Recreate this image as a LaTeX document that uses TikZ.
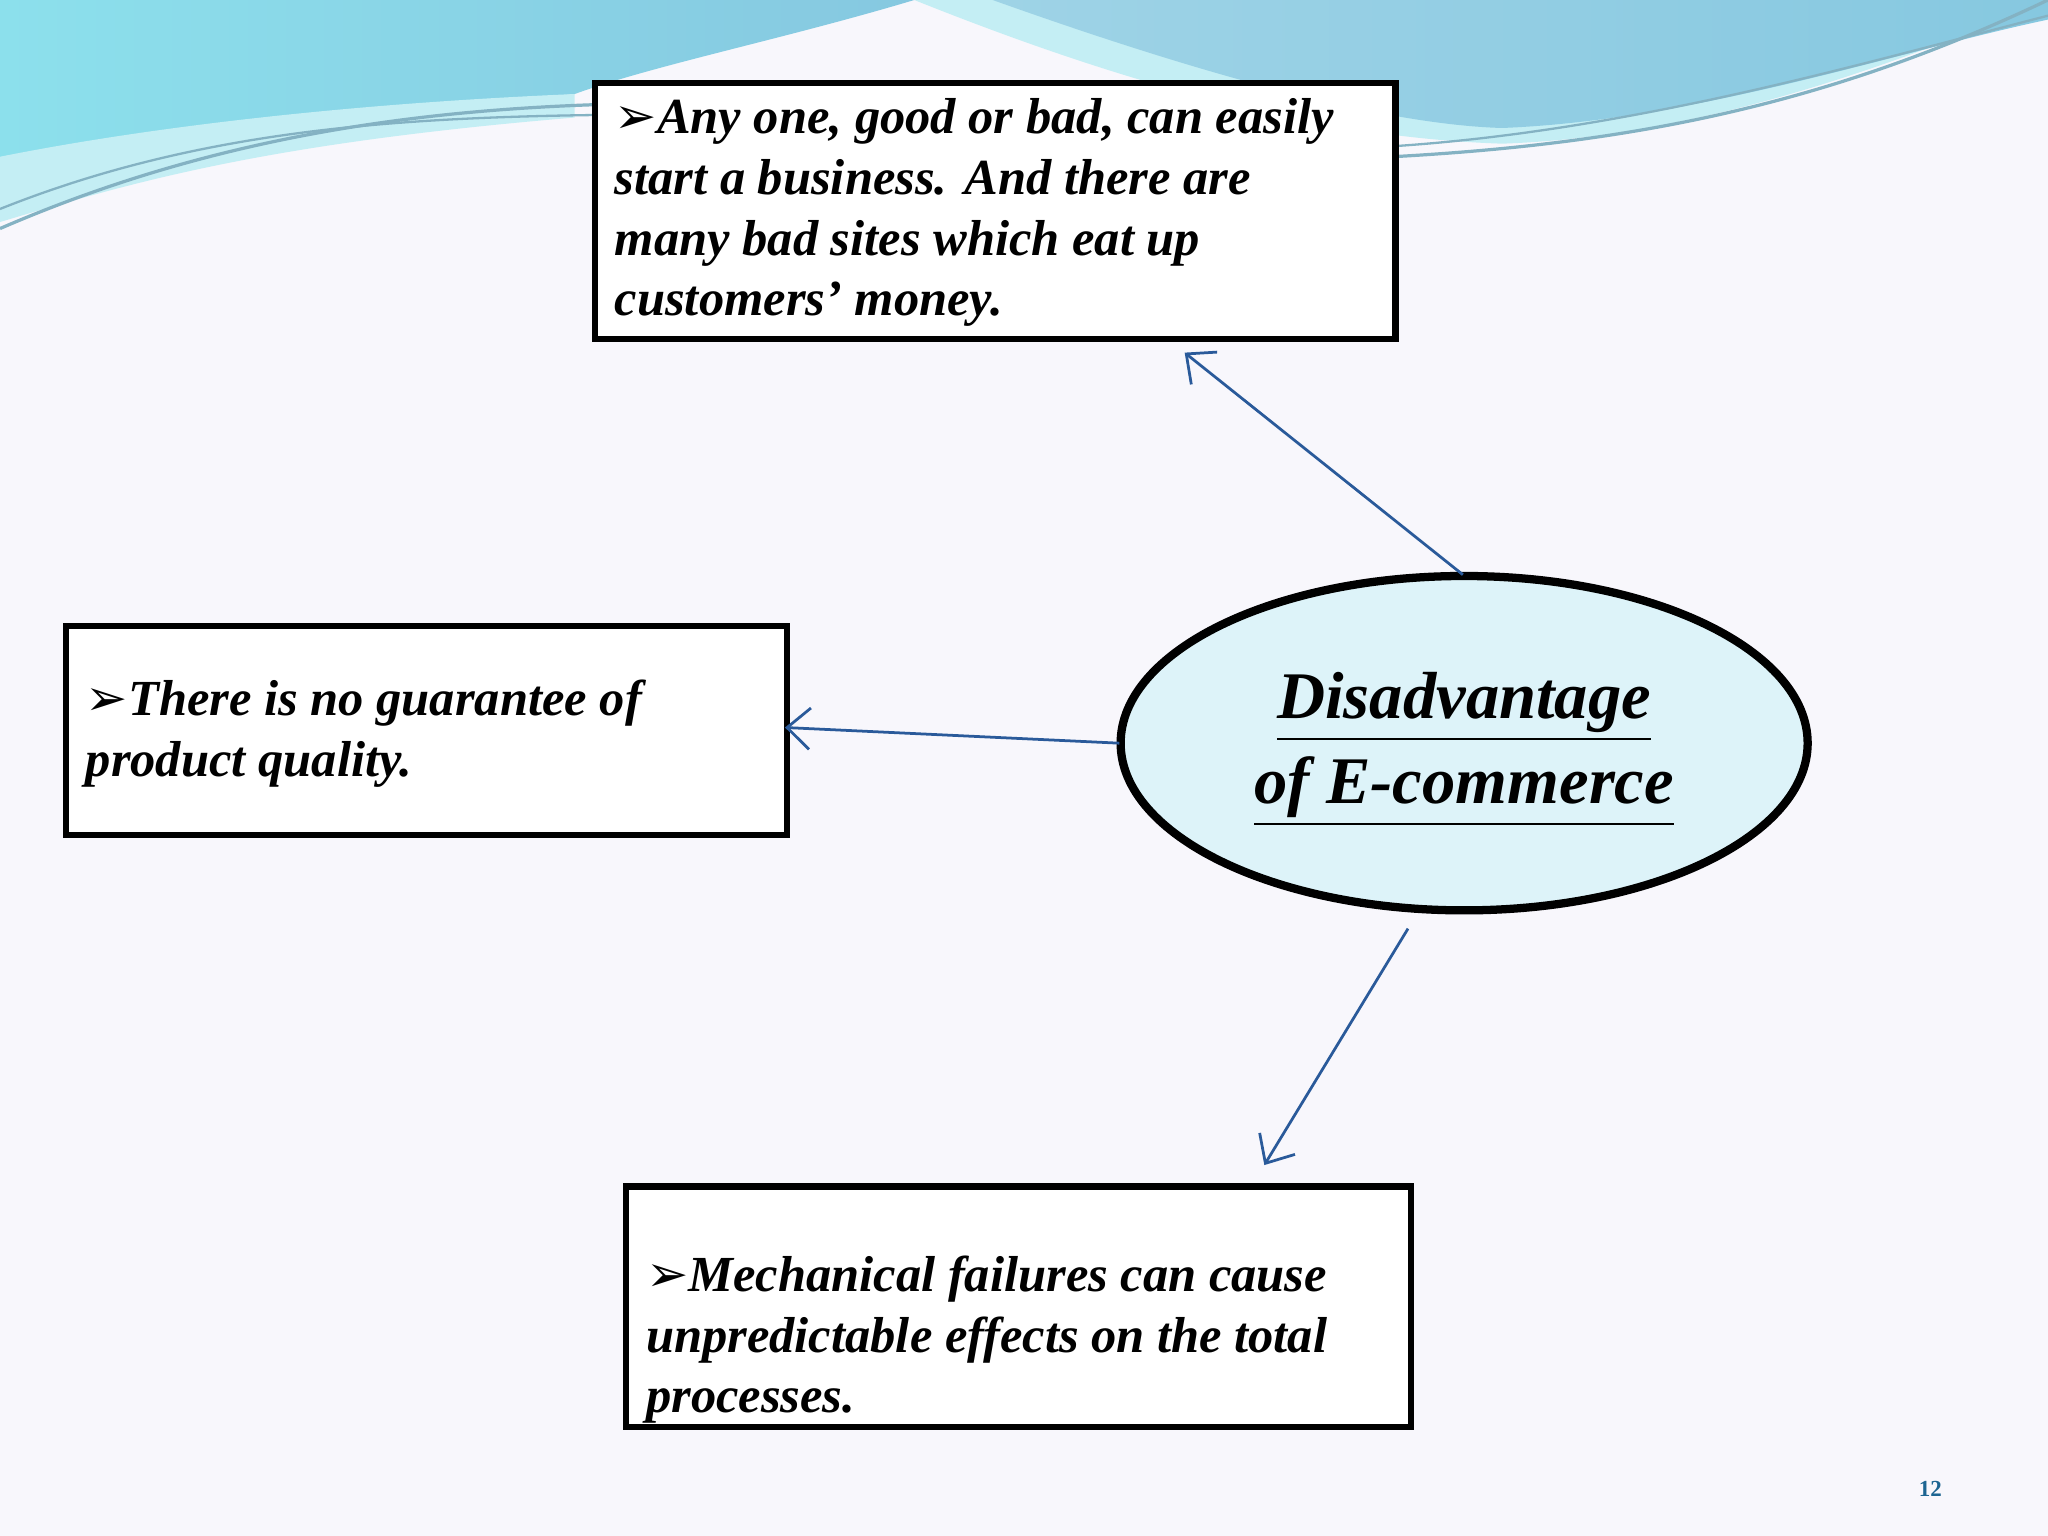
\documentclass[tikz,border=0pt]{standalone}
\usepackage{fontspec}
\usetikzlibrary{arrows.meta}
\setmainfont{Liberation Serif}
\newfontfamily\arr{DejaVu Sans}
\definecolor{bg}{HTML}{F8F7FC}
\definecolor{arrc}{HTML}{2A5A9A}
\definecolor{wave}{HTML}{86C8E0}
\definecolor{wavec}{HTML}{8CE0EC}
\definecolor{wavel}{HTML}{C4EEF4}
\definecolor{ellf}{HTML}{DDF3F9}
\tikzset{
 box/.style={draw,line width=1.4pt,fill=white,anchor=north west,inner sep=0pt},
 txt/.style={font=\fontsize{11}{13.2}\selectfont\bfseries\itshape,align=left,anchor=north west,inner sep=0pt},
 con/.style={draw=arrc,line width=0.6pt,-{Straight Barb[length=5pt,width=9pt]}},
}
\newcommand{\ul}[1]{\underline{#1}}
\begin{document}
\begin{tikzpicture}[x=0.01cm,y=-0.01cm]
\useasboundingbox (0,0) rectangle (1568,1176);
\fill[bg] (0,0) rectangle (1568,1176);
% waves
\shade[left color=wavec,right color=wave] (0,0) -- (700,0) .. controls (600,30) and (500,50) .. (440,72) .. controls (250,90) and (100,120) .. (0,160) -- cycle;
\fill[wavel] (0,120) .. controls (100,100) and (250,80) .. (440,72) -- (440,90) .. controls (200,110) and (100,140) .. (0,170) -- cycle;
\fill[wavel] (700,0) .. controls (850,60) and (1000,105) .. (1150,110) .. controls (1300,105) and (1450,50) .. (1568,0) -- cycle;
\shade[left color=wave!80!white,right color=wave] (760,0) .. controls (900,50) and (1050,95) .. (1150,98) .. controls (1300,92) and (1450,40) .. (1568,15) -- (1568,0) -- cycle;
\draw[wave!70!gray,line width=0.7pt] (0,175) .. controls (150,110) and (300,85) .. (460,80);
\draw[wave!70!gray,line width=0.5pt] (0,160) .. controls (150,100) and (300,90) .. (460,88);
\draw[wave!70!gray,line width=0.7pt] (1066,120) .. controls (1250,110) and (1400,80) .. (1568,0);
\draw[wave!70!gray,line width=0.5pt] (1066,112) .. controls (1250,100) and (1420,50) .. (1568,12);
% boxes
\node[box,minimum width=613*0.01cm,minimum height=196*0.01cm] (top) at (453,61) {};
\node[txt] at (470,75) {{\arr\bfseries ➢}Any one, good or bad, can easily\\start a business. And there are\\many bad sites which eat up\\customers’ money.};
\node[box,minimum width=552*0.01cm,minimum height=160*0.01cm] (left) at (48,477) {};
\node[txt] at (65,520) {{\arr\bfseries ➢}There is no guarantee of\\product quality.};
\node[box,minimum width=601*0.01cm,minimum height=184*0.01cm] (bot) at (477,906) {};
\node[txt] at (494,961) {{\arr\bfseries ➢}Mechanical failures can cause\\unpredictable effects on the total\\processes.};
% ellipse
\draw[fill=ellf,line width=1.8pt] (1121,569) ellipse [x radius=263, y radius=128];
\node[font=\fontsize{14.5}{18.5}\selectfont\bfseries\itshape,align=center] (ell) at (1121,574) {\ul{Disadvantage}\\\ul{of E-commerce}};
\coordinate (a1) at (1120,440); \coordinate (a2) at (907,270);
\coordinate (b1) at (857,569); \coordinate (b2) at (601,557);
\coordinate (c1) at (1078,711); \coordinate (c2) at (968,892);
\draw[con] (a1) -- (a2);
\draw[con] (b1) -- (b2);
\draw[con] (c1) -- (c2);
\node[font=\fontsize{5}{6}\selectfont\bfseries,text=arrc!70!teal] (pg) at (1478,1140) {12};
\end{tikzpicture}
\end{document}
